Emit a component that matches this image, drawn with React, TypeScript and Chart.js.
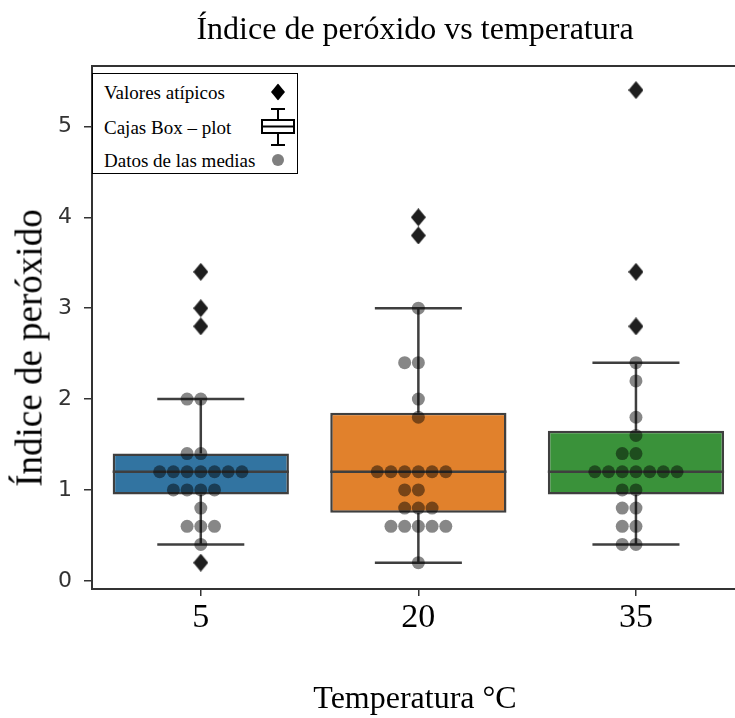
import React, { useEffect, useRef } from 'react';
import { Chart, registerables } from 'chart.js';
Chart.register(...registerables);

// ---- data ----
const categories = ['5', '20', '35'];
const boxColors = ['#3274a1', '#e1812c', '#3a923a'];
const q1 = [0.95, 0.75, 0.95];
const medians = [1.2, 1.2, 1.2];
const q3 = [1.4, 1.85, 1.65];
const whiskerLow = [0.4, 0.2, 0.4];
const whiskerHigh = [2.0, 3.0, 2.4];
const outliers5 = [3.4, 3.0, 2.8, 0.2];
const outliers20 = [4.0, 3.8];
const outliers35 = [5.4, 3.4, 2.8];
const means5 = [2.0, 2.0, 1.4, 1.4, 1.2, 1.2, 1.2, 1.2, 1.2, 1.2, 1.2, 1.0, 1.0, 1.0, 1.0, 0.8, 0.6, 0.6, 0.6, 0.4];
const means20 = [3.0, 2.4, 2.4, 2.0, 1.8, 1.2, 1.2, 1.2, 1.2, 1.2, 1.2, 1.0, 1.0, 0.8, 0.8, 0.8, 0.6, 0.6, 0.6, 0.6, 0.6, 0.2];
const means35 = [2.4, 2.2, 1.8, 1.6, 1.4, 1.4, 1.2, 1.2, 1.2, 1.2, 1.2, 1.2, 1.2, 1.0, 1.0, 0.8, 0.8, 0.6, 0.6, 0.4, 0.4];
const yTicks = [0, 1, 2, 3, 4, 5];

const SWARM_STEP = 0.063; // dot spacing in category units
const SERIF = '"Liberation Serif", "Times New Roman", serif';

function swarm(values: number[], idx: number) {
  const counts = new Map<number, number>();
  return values.map((v) => {
    const k = counts.get(v) || 0;
    counts.set(v, k + 1);
    const slot = k === 0 ? 0 : k % 2 === 1 ? -Math.ceil(k / 2) : Math.ceil(k / 2);
    return { x: idx + slot * SWARM_STEP, y: v };
  });
}

function boxLines() {
  const pts: any[] = [];
  const gap = (i: number) => pts.push({ x: i, y: null });
  categories.forEach((_, i) => {
    const hw = 0.405;
    const cw = 0.2;
    pts.push({ x: i - hw, y: medians[i] }, { x: i + hw, y: medians[i] }); gap(i);
    pts.push({ x: i, y: q3[i] }, { x: i, y: whiskerHigh[i] }); gap(i);
    pts.push({ x: i, y: q1[i] }, { x: i, y: whiskerLow[i] }); gap(i);
    pts.push({ x: i - cw, y: whiskerHigh[i] }, { x: i + cw, y: whiskerHigh[i] }); gap(i);
    pts.push({ x: i - cw, y: whiskerLow[i] }, { x: i + cw, y: whiskerLow[i] }); gap(i);
  });
  return pts;
}

function makeDiamond() {
  const c = document.createElement('canvas');
  c.width = 15;
  c.height = 18;
  const g = c.getContext('2d')!;
  g.fillStyle = '#1e1e1e';
  g.beginPath();
  g.moveTo(7.5, 0);
  g.lineTo(15, 9);
  g.lineTo(7.5, 18);
  g.lineTo(0, 9);
  g.closePath();
  g.fill();
  return c;
}

const topSpine = {
  id: 'topSpine',
  afterDraw(chart: any) {
    const { ctx, chartArea } = chart;
    ctx.save();
    ctx.strokeStyle = '#333';
    ctx.lineWidth = 2;
    ctx.beginPath();
    ctx.moveTo(chartArea.left, chartArea.top);
    ctx.lineTo(chartArea.right, chartArea.top);
    ctx.stroke();
    ctx.restore();
  },
};

export default function App() {
  const ref = useRef<HTMLCanvasElement>(null);
  useEffect(() => {
    const diamond = makeDiamond();
    const outliers = [
      ...outliers5.map((v) => ({ x: 0, y: v })),
      ...outliers20.map((v) => ({ x: 1, y: v })),
      ...outliers35.map((v) => ({ x: 2, y: v })),
    ];
    const means = [...swarm(means5, 0), ...swarm(means20, 1), ...swarm(means35, 2)];
    const chart = new Chart(ref.current!, {
      type: 'bar',
      data: {
        datasets: [
          {
            type: 'bar',
            data: categories.map((_, i) => ({ x: i, y: [q1[i], q3[i]] })) as any,
            backgroundColor: boxColors,
            borderColor: '#3f3f3f',
            borderWidth: 2.5,
            borderSkipped: false,
            categoryPercentage: 0.81,
            barPercentage: 1,
            xAxisID: 'x',
            yAxisID: 'y',
            order: 4,
          } as any,
          {
            type: 'line',
            data: boxLines(),
            borderColor: '#3f3f3f',
            borderWidth: 2.5,
            pointRadius: 0,
            spanGaps: false,
            fill: false,
            xAxisID: 'x',
            yAxisID: 'y',
            order: 3,
          } as any,
          {
            type: 'scatter',
            data: outliers,
            pointStyle: diamond,
            xAxisID: 'x',
            yAxisID: 'y',
            order: 2,
          } as any,
          {
            type: 'scatter',
            data: means,
            pointRadius: 6.5,
            pointBackgroundColor: 'rgba(0,0,0,0.47)',
            pointBorderWidth: 0,
            xAxisID: 'x',
            yAxisID: 'y',
            order: 1,
          } as any,
        ],
      },
      options: {
        responsive: false,
        animation: false,
        // the axes continue past the visible right edge, as in the reference
        layout: { padding: { left: 0, top: 0, bottom: 0, right: 22 }, autoPadding: false },
        plugins: {
          legend: { display: false },
          tooltip: { enabled: false },
          title: {
            display: true,
            text: 'Índice de peróxido vs temperatura',
            fullSize: false,
            color: '#000',
            font: { family: SERIF, size: 32, weight: 'normal' },
            padding: { top: 11, bottom: 16.6 },
          },
        },
        scales: {
          x: {
            type: 'linear',
            position: 'bottom',
            min: -0.5,
            max: 2.469,
            offset: false,
            afterBuildTicks: (s: any) => {
              s.ticks = categories.map((_, i) => ({ value: i }));
            },
            afterFit: (s: any) => {
              s.height = 129;
            },
            ticks: {
              callback: (_v: any, i: number) => categories[i],
              color: '#000',
              font: { family: SERIF, size: 34 },
              padding: 2,
              autoSkip: false,
              maxRotation: 0,
            },
            grid: { display: true, offset: false, drawOnChartArea: false, drawTicks: true, tickLength: 7, color: '#333', lineWidth: 1.5 },
            border: { display: true, color: '#333', width: 2 },
            title: {
              display: true,
              text: 'Temperatura °C',
              color: '#000',
              font: { family: SERIF, size: 32 },
              padding: { top: 0, bottom: -1 },
            },
          },
          y: {
            type: 'linear',
            min: -0.09,
            max: 5.665,
            afterBuildTicks: (s: any) => {
              s.ticks = yTicks.map((v) => ({ value: v }));
            },
            afterFit: (s: any) => {
              s.width = 92;
            },
            ticks: {
              callback: (v: any) => String(v),
              color: '#333',
              font: { family: '"DejaVu Sans", sans-serif', size: 22 },
              padding: 12,
            },
            grid: { display: true, drawOnChartArea: false, drawTicks: true, tickLength: 8, color: '#333', lineWidth: 1.5 },
            border: { display: true, color: '#333', width: 2 },
            title: { display: false },
          },
        },
      } as any,
      plugins: [topSpine],
    });
    return () => chart.destroy();
  }, []);

  const row: React.CSSProperties = { position: 'absolute', left: 11, transform: 'translateY(-50%)', whiteSpace: 'nowrap', lineHeight: 1 };
  const icon: React.CSSProperties = { position: 'absolute', left: 185, transform: 'translate(-50%, -50%)' };

  return (
    <div style={{ position: 'absolute', left: 0, top: 0, width: 735, height: 718, background: '#fff', overflow: 'hidden' }}>
      <canvas ref={ref} width={760} height={718} style={{ display: 'block' }} />
      <div
        style={{
          position: 'absolute',
          left: 29,
          top: 348,
          transform: 'translate(-50%, -50%) rotate(-90deg)',
          whiteSpace: 'nowrap',
          fontFamily: SERIF,
          fontSize: 37,
          lineHeight: 1,
          color: '#000',
        }}
      >
        Índice de peróxido
      </div>
      <div
        style={{
          position: 'absolute',
          left: 92,
          top: 73,
          width: 206,
          height: 101,
          boxSizing: 'border-box',
          border: '1px solid #000',
          background: '#fff',
          fontFamily: SERIF,
          fontSize: 19,
          color: '#000',
        }}
      >
        <div style={{ ...row, top: 18 }}>Valores atípicos</div>
        <div style={{ ...row, top: 53 }}>Cajas Box – plot</div>
        <div style={{ ...row, top: 86 }}>Datos de las medias</div>
        <svg style={{ ...icon, top: 18 }} width={14} height={17} viewBox="0 0 14 17">
          <polygon points="7,0 14,8.5 7,17 0,8.5" fill="#000" />
        </svg>
        <svg style={{ ...icon, top: 53 }} width={34} height={38} viewBox="0 0 34 38">
          <g stroke="#000" strokeWidth={2} fill="#fff">
            <line x1={10} y1={1} x2={24} y2={1} />
            <line x1={17} y1={1} x2={17} y2={12} />
            <rect x={1} y={12} width={32} height={13} />
            <line x1={1} y1={18.5} x2={33} y2={18.5} />
            <line x1={17} y1={25} x2={17} y2={37} />
            <line x1={10} y1={37} x2={24} y2={37} />
          </g>
        </svg>
        <svg style={{ ...icon, top: 86 }} width={12} height={12} viewBox="0 0 12 12">
          <circle cx={6} cy={6} r={6} fill="#7f7f7f" />
        </svg>
      </div>
    </div>
  );
}
